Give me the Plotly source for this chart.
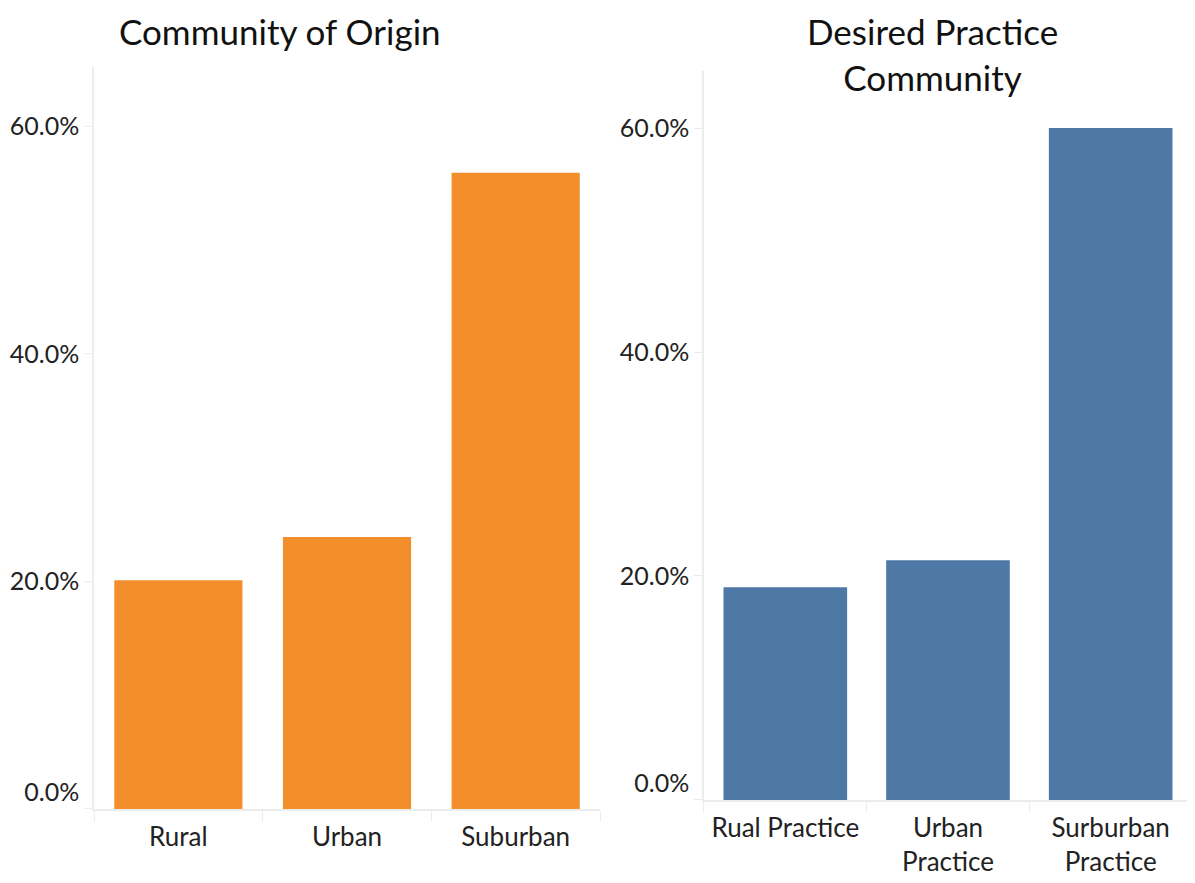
import plotly.graph_objects as go
from plotly.subplots import make_subplots

origin_labels = ['Rural', 'Urban', 'Suburban']
origin_values = [0.201, 0.239, 0.559]

practice_labels = ['Rual Practice', 'Urban<br>Practice', 'Surburban<br>Practice']
practice_values = [0.190, 0.214, 0.600]

tick_vals = [0, 0.2, 0.4, 0.6]
tick_text = ['0.0%<br>&nbsp;', '20.0%', '40.0%', '60.0%']

FONT = 'Lato'
AXIS_GREY = '#ececec'

fig = make_subplots(rows=1, cols=2)

fig.add_trace(go.Bar(x=origin_labels, y=origin_values, marker_color='#F28E2B',
                     marker_line_width=0, showlegend=False), row=1, col=1)
fig.add_trace(go.Bar(x=practice_labels, y=practice_values, marker_color='#4E79A7',
                     marker_line_width=0, showlegend=False), row=1, col=2)

xcommon = dict(showgrid=False, showline=True, linecolor=AXIS_GREY, linewidth=1.5,
               ticks='outside', tickson='boundaries', ticklen=11, tickcolor=AXIS_GREY,
               ticklabelstandoff=4,
               tickfont=dict(family=FONT, size=26, color='#222'), automargin=False)
ycommon = dict(showgrid=False, showline=True, linecolor=AXIS_GREY, linewidth=1.5,
               zeroline=False, ticks='outside', ticklen=8, tickcolor=AXIS_GREY,
               tickvals=tick_vals, ticktext=tick_text, automargin=False,
               tickfont=dict(family=FONT, size=25, color='#222'))

fig.update_xaxes(xcommon)
fig.update_yaxes(ycommon)
# page has an 8px body margin, so domains are shifted to compensate
fig.update_xaxes(domain=[0.072, 0.4954], row=1, col=1)
fig.update_xaxes(domain=[0.5824, 0.9908], row=1, col=2)
fig.update_yaxes(domain=[0.0929, 0.9332], range=[0, 0.652], row=1, col=1)
fig.update_yaxes(domain=[0.1031, 0.9287], range=[0, 0.651], row=1, col=2)

fig.add_annotation(text='Community of Origin', xref='paper', yref='paper',
                   x=0.2272, y=1.0, xanchor='center', yanchor='top', showarrow=False,
                   font=dict(family=FONT, size=35, color='#111'))
fig.add_annotation(text='Desired Practice<br>Community', xref='paper', yref='paper',
                   x=0.774, y=1.0, xanchor='center', yanchor='top', showarrow=False,
                   font=dict(family=FONT, size=35, color='#111'))

fig.update_layout(width=1195, height=883, bargap=0.24,
                  plot_bgcolor='white', paper_bgcolor='white',
                  margin=dict(l=0, r=0, t=0, b=0),
                  font=dict(family=FONT))

fig.write_html('out.html')
